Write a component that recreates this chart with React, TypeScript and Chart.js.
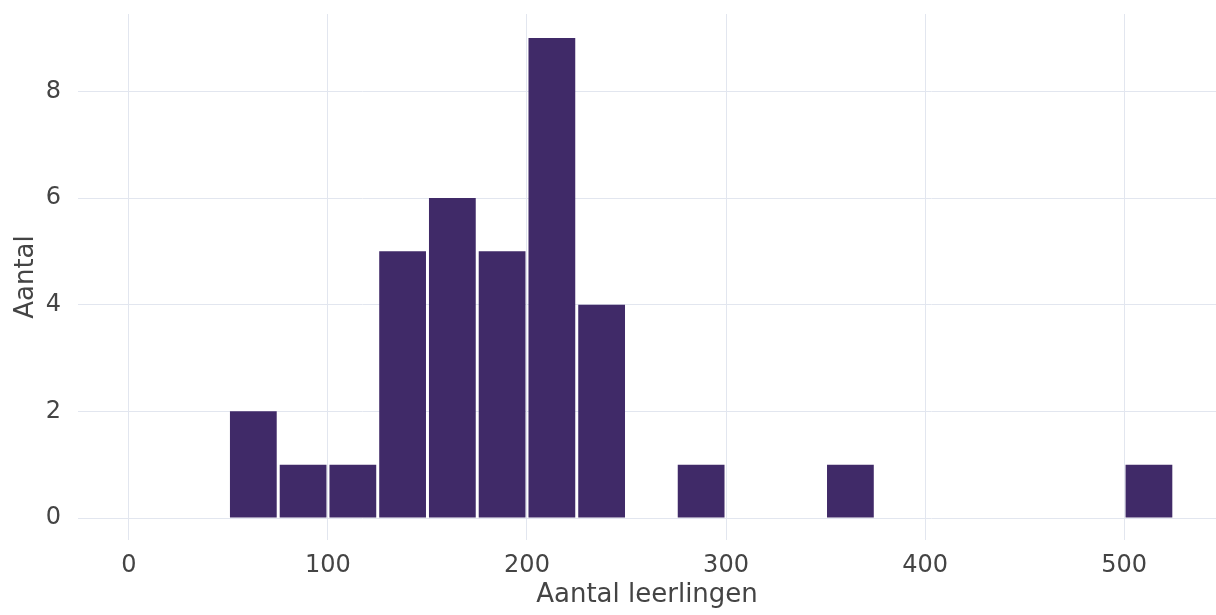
import React, { useEffect, useRef } from "react";
import { Chart, registerables } from "chart.js";

Chart.register(...registerables);

// Histogram bins (start of each 25-wide bin) and counts
const binStarts = [50, 75, 100, 125, 150, 175, 200, 225, 250, 275, 300, 325, 350, 375, 400, 425, 450, 475, 500];
const counts = [2, 1, 1, 5, 6, 5, 9, 4, 0, 1, 0, 0, 1, 0, 0, 0, 0, 0, 1];
const binWidth = 25;
const xTicks = [0, 100, 200, 300, 400, 500];
const yTicks = [0, 2, 4, 6, 8];

export default function App() {
  const ref = useRef<HTMLCanvasElement | null>(null);

  useEffect(() => {
    if (!ref.current) return;
    const data = binStarts.map((s, i) => ({ x: s + binWidth / 2, y: counts[i] }));
    const tickFont = { family: "'DejaVu Sans', Verdana, sans-serif", size: 24, lineHeight: 1.2 };
    const titleFont = { family: "'DejaVu Sans', Verdana, sans-serif", size: 26, lineHeight: 1.2 };
    const gridColor = "#e2e6ef";
    const chart = new Chart(ref.current, {
      type: "bar",
      data: {
        datasets: [
          {
            data,
            backgroundColor: "#402a68",
            borderWidth: 0,
            barPercentage: 0.94,
            categoryPercentage: 1,
          },
        ],
      },
      options: {
        animation: false,
        responsive: false,
        devicePixelRatio: 1,
        layout: { padding: { top: 14, left: 0, right: 0, bottom: 0 } },
        plugins: { legend: { display: false }, tooltip: { enabled: false } },
        scales: {
          x: {
            type: "linear",
            offset: false,
            min: -25.6,
            max: 546.2,
            border: { display: false },
            grid: { color: gridColor, lineWidth: 1, drawTicks: false, offset: false },
            ticks: { font: tickFont, color: "#444", padding: 11, maxRotation: 0 },
            afterBuildTicks: (scale: any) => {
              scale.ticks = xTicks.map((v) => ({ value: v }));
            },
            afterFit: (scale: any) => {
              scale.height = 75;
              scale.paddingLeft = 0;
              scale.paddingRight = 0;
            },
            title: {
              display: true,
              text: "Aantal leerlingen",
              font: titleFont,
              color: "#444",
              padding: { top: 0, bottom: 4 },
            },
          },
          y: {
            type: "linear",
            min: -0.412,
            max: 9.45,
            border: { display: false },
            grid: { color: gridColor, lineWidth: 1, drawTicks: false },
            ticks: { font: tickFont, color: "#444", padding: 17 },
            afterBuildTicks: (scale: any) => {
              scale.ticks = yTicks.map((v) => ({ value: v }));
            },
            afterFit: (scale: any) => {
              scale.width = 78;
              scale.paddingTop = 0;
              scale.paddingBottom = 0;
            },
            title: {
              display: true,
              text: "Aantal",
              font: titleFont,
              color: "#444",
              padding: { top: 11, bottom: 0 },
            },
          },
        },
      },
    });
    return () => chart.destroy();
  }, []);

  return (
    <div style={{ position: "absolute", left: 0, top: 0, width: 1216, height: 615, background: "#fff" }}>
      <canvas ref={ref} width={1216} height={615} style={{ display: "block", width: 1216, height: 615 }} />
    </div>
  );
}
